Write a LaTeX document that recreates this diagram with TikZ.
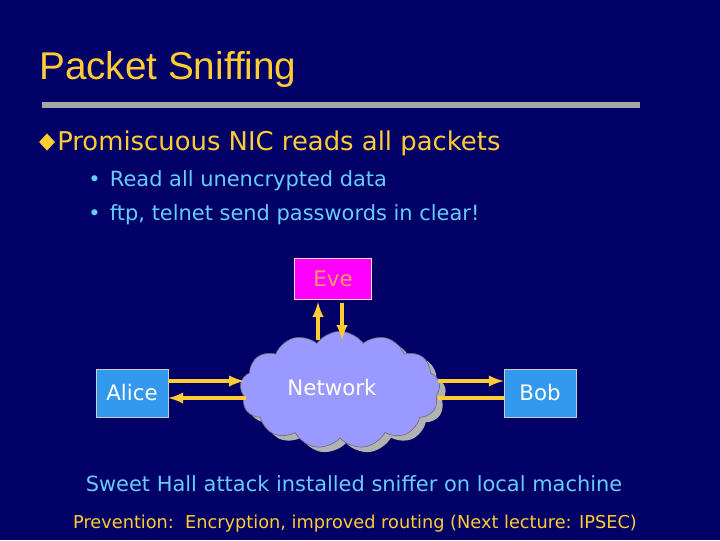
\documentclass[tikz,border=0pt]{standalone}
\usepackage{fontspec}
\setmainfont{DejaVu Sans}
\newfontfamily\titlefont{Liberation Sans}
\usetikzlibrary{shapes.symbols,shapes.geometric}
\definecolor{bg}{HTML}{000066}
\definecolor{ttl}{HTML}{FFCC33}
\definecolor{lb}{HTML}{66CCFF}
\definecolor{boxb}{HTML}{3399EE}
\definecolor{arr}{HTML}{FFCC33}
\definecolor{cl}{HTML}{9999FF}
\definecolor{evet}{HTML}{FF9966}
\definecolor{evef}{HTML}{FF00FF}
\begin{document}
\begin{tikzpicture}[x=0.75pt,y=-0.75pt,
  hostbox/.style={draw=gray!40,fill=boxb,minimum width=54pt,minimum height=36pt,text=white,font=\fontsize{16}{18}\selectfont},
  conn/.style={draw=arr,line width=2.8pt,-latex},
  plain/.style={draw=arr,line width=2.8pt}]
\fill[bg] (0,0) rectangle (720,540);
\useasboundingbox (0,0) rectangle (720,540);
\node[anchor=base west,text=ttl,inner sep=0,font=\titlefont\fontsize{29}{31}\selectfont] (title) at (39,79) {Packet Sniffing};
\fill[gray!70] (42,102) rectangle (640,108);
\node[diamond,fill=ttl,inner sep=0,minimum width=12pt,minimum height=13pt] (dia) at (47,142) {};
\node[anchor=base west,text=ttl,inner sep=0,font=\fontsize{19.4}{21}\selectfont] (b1) at (57,150) {Promiscuous NIC reads all packets};
\node[anchor=base west,text=lb,inner sep=0,font=\fontsize{15.7}{18}\selectfont] (s1) at (88,186) {\textbullet\hspace{7pt}Read all unencrypted data};
\node[anchor=base west,text=lb,inner sep=0,font=\fontsize{15.7}{18}\selectfont] (s2) at (88,220) {\textbullet\hspace{7pt}ftp, telnet send passwords in clear!};
\node[draw=pink!60,fill=evef,minimum width=58pt,minimum height=31pt,text=evet,font=\fontsize{16}{18}\selectfont] (eve) at (333,279) {Eve};
\node[hostbox] (alice) at (132,393) {Alice};
\node[hostbox] (bob) at (540,393) {Bob};
\node[cloud,cloud puffs=13,cloud puff arc=110,aspect=1.7,fill=gray!60,minimum width=150pt,minimum height=88pt] (shadow) at (346,395) {};
\node[cloud,cloud puffs=13,cloud puff arc=110,aspect=1.7,draw=black!60,fill=cl,minimum width=150pt,minimum height=88pt] (net) at (340,390) {};
\node[text=white,font=\fontsize{16}{18}\selectfont] (nettext) at (332,388) {Network};
\coordinate (eu) at (318,340); \coordinate (ed) at (342,340);
\draw[conn] (eu) -- (318,302);
\draw[conn] (342,303) -- (ed);
\coordinate (a1) at (244,381); \coordinate (a2) at (246,398);
\draw[conn] (alice.east |- a1) -- (a1);
\draw[conn] (a2) -- (alice.east |- a2);
\coordinate (b1c) at (438,381); \coordinate (b2c) at (438,398);
\draw[conn] (b1c) -- (bob.west |- b1c);
\draw[plain] (bob.west |- b2c) -- (b2c);
\node[text=lb,inner sep=0,font=\fontsize{15.7}{18}\selectfont] (sweet) at (354,484) {Sweet Hall attack installed sniffer on local machine};
\node[text=ttl,inner sep=0,font=\fontsize{13.3}{16}\selectfont] (prev) at (355,524) {Prevention:\ \ Encryption, improved routing (Next lecture: IPSEC)};
\end{tikzpicture}
\end{document}
